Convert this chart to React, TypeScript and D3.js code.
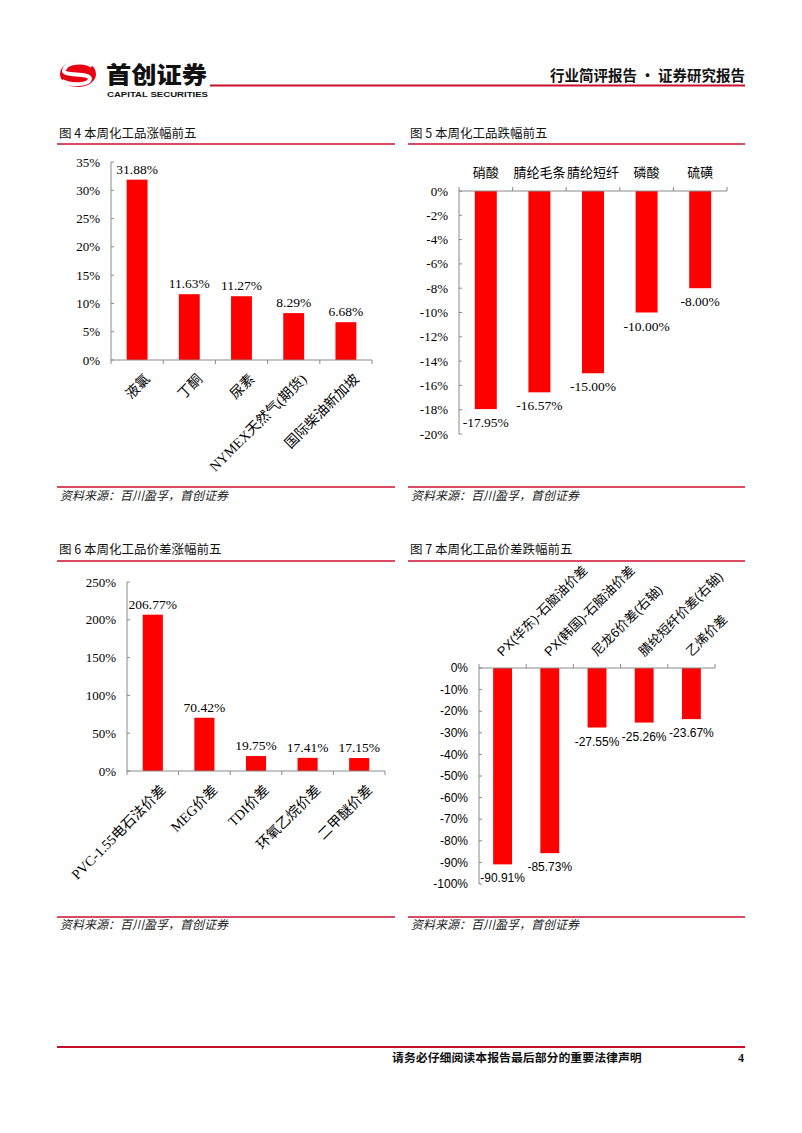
import React from 'react';
import * as d3 from 'd3';

// ---------- data ----------
const C4_CATS = ['液氯', '丁酮', '尿素', 'NYMEX天然气(期货)', '国际柴油新加坡'];
const C4_VALS = [31.88, 11.63, 11.27, 8.29, 6.68];
const C4_TICKS = [0, 5, 10, 15, 20, 25, 30, 35];

const C5_CATS = ['硝酸', '腈纶毛条', '腈纶短纤', '磷酸', '硫磺'];
const C5_VALS = [-17.95, -16.57, -15.0, -10.0, -8.0];
const C5_TICKS = [0, -2, -4, -6, -8, -10, -12, -14, -16, -18, -20];

const C6_CATS = ['PVC-1.55电石法价差', 'MEG价差', 'TDI价差', '环氧乙烷价差', '二甲醚价差'];
const C6_VALS = [206.77, 70.42, 19.75, 17.41, 17.15];
const C6_TICKS = [0, 50, 100, 150, 200, 250];

const C7_CATS = ['PX(华东)-石脑油价差', 'PX(韩国)-石脑油价差', '尼龙6价差(右轴)', '腈纶短纤价差(右轴)', '乙烯价差'];
const C7_VALS = [-90.91, -85.73, -27.55, -25.26, -23.67];
const C7_TICKS = [0, -10, -20, -30, -40, -50, -60, -70, -80, -90, -100];

const TITLES = ['图 4 本周化工品涨幅前五', '图 5 本周化工品跌幅前五', '图 6 本周化工品价差涨幅前五', '图 7 本周化工品价差跌幅前五'];
const SOURCE = '资料来源：百川盈孚，首创证券';

const SERIF = "'Liberation Serif','Times New Roman','Noto Sans CJK SC',serif";
const SANS = "'Liberation Sans',Arial,'Noto Sans CJK SC',sans-serif";
const CJK = "'Noto Sans CJK SC',sans-serif";
const RED = '#FF0000';
const DARKRED = '#C8102E';
const AXIS = '#8a8a8a';

type Spec = {
  cats: string[];
  vals: number[];
  domain: [number, number];
  yPix: [number, number];
  xPix: [number, number];
  ticks: number[];
  font: string;
  tickFs: number;
  valFs: number;
  catFs: number;
  catMode: 'belowRot' | 'aboveHoriz' | 'aboveRot';
  pad: number;
};

function Bars({ s }: { s: Spec }) {
  const y = d3.scaleLinear().domain(s.domain).range(s.yPix);
  const x = d3.scaleBand<string>().domain(s.cats).range(s.xPix).paddingInner(s.pad).paddingOuter(s.pad / 2);
  const y0 = y(0);
  const ax = s.xPix[0];
  const step = x.step();
  const yEnd = y(s.domain[0] === 0 ? s.domain[1] : s.domain[0]);
  const neg = s.domain[0] < 0;
  const bounds = d3.range(s.cats.length + 1).map((i) => (x(s.cats[0]) as number) + x.bandwidth() / 2 - step / 2 + i * step);
  return (
    <g>
      {/* y axis */}
      <line x1={ax} x2={ax} y1={y0} y2={yEnd} stroke={AXIS} strokeWidth={1} />
      {s.ticks.map((t) => (
        <g key={t}>
          <line x1={ax} x2={ax + 3} y1={y(t)} y2={y(t)} stroke={AXIS} />
          <text x={ax - 11} y={y(t)} dy="0.35em" textAnchor="end" fontFamily={s.font} fontSize={s.tickFs} fill="#000">
            {`${t}%`}
          </text>
        </g>
      ))}
      {/* bars */}
      {s.cats.map((c, i) => {
        const v = s.vals[i];
        const yv = y(v);
        return (
          <rect key={c} x={x(c)} width={x.bandwidth()} y={Math.min(yv, y0)} height={Math.abs(yv - y0)} fill={RED} />
        );
      })}
      {/* x axis */}
      <line x1={s.xPix[0]} x2={s.xPix[1]} y1={y0} y2={y0} stroke={AXIS} strokeWidth={1} />
      {bounds.map((b, i) => (
        <line key={i} x1={b} x2={b} y1={y0} y2={neg ? y0 - 4 : y0 + 4} stroke={AXIS} />
      ))}
      {/* value labels */}
      {s.cats.map((c, i) => {
        const v = s.vals[i];
        const cx = (x(c) as number) + x.bandwidth() / 2;
        const yv = y(v);
        return (
          <text key={c} x={cx} y={v >= 0 ? yv - 6 : yv + 18} textAnchor="middle" fontFamily={s.font} fontSize={s.valFs} fill="#000">
            {`${v.toFixed(2)}%`}
          </text>
        );
      })}
      {/* category labels */}
      {s.cats.map((c) => {
        const cx = (x(c) as number) + x.bandwidth() / 2;
        if (s.catMode === 'aboveHoriz') {
          return (
            <text key={c} x={cx} y={y0 - 14} textAnchor="middle" fontFamily={s.font} fontSize={s.catFs} fill="#000">
              {c}
            </text>
          );
        }
        if (s.catMode === 'belowRot') {
          const px = cx + 7;
          const py = y0 + 13;
          return (
            <text key={c} x={px} y={py} dy="0.7em" textAnchor="end" transform={`rotate(-45 ${px} ${py})`} fontFamily={s.font} fontSize={s.catFs} fill="#000">
              {c}
            </text>
          );
        }
        const px = cx;
        const py = y0 - 11;
        return (
          <text key={c} x={px} y={py} textAnchor="start" transform={`rotate(-45 ${px} ${py})`} fontFamily={s.font} fontSize={s.catFs} fill="#000">
            {c}
          </text>
        );
      })}
    </g>
  );
}

const SPECS: Spec[] = [
  { cats: C4_CATS, vals: C4_VALS, domain: [0, 35], yPix: [360, 162], xPix: [111, 372], ticks: C4_TICKS, font: SERIF, tickFs: 13, valFs: 13.5, catFs: 14, catMode: 'belowRot', pad: 0.6 },
  { cats: C5_CATS, vals: C5_VALS, domain: [-20, 0], yPix: [434, 191], xPix: [459, 727], ticks: C5_TICKS, font: SERIF, tickFs: 13, valFs: 13.5, catFs: 13, catMode: 'aboveHoriz', pad: 0.59 },
  { cats: C6_CATS, vals: C6_VALS, domain: [0, 250], yPix: [771, 582], xPix: [127, 385], ticks: C6_TICKS, font: SERIF, tickFs: 13, valFs: 13.5, catFs: 14, catMode: 'belowRot', pad: 0.61 },
  { cats: C7_CATS, vals: C7_VALS, domain: [-100, 0], yPix: [884, 668], xPix: [479, 715], ticks: C7_TICKS, font: SANS, tickFs: 12, valFs: 12, catFs: 13, catMode: 'aboveRot', pad: 0.6 },
];

const PANELS = [
  { x0: 57, x1: 395, titleY: 138, lineY: 144, srcLineY: 487, srcY: 500 },
  { x0: 408, x1: 745, titleY: 138, lineY: 144, srcLineY: 487, srcY: 500 },
  { x0: 57, x1: 395, titleY: 554, lineY: 561, srcLineY: 917, srcY: 929 },
  { x0: 408, x1: 745, titleY: 554, lineY: 561, srcLineY: 917, srcY: 929 },
];

export default function App() {
  return (
    <svg width={802} height={1133} style={{ position: 'absolute', left: 0, top: 0, background: '#fff' }}>
      <rect width={802} height={1133} fill="#fff" />
      {/* header logo */}
      <g>
        <ellipse cx={78} cy={74} rx={18} ry={13} fill="#E60012" />
        <path d="M92,66 C84,60 66,62 64,70 C62,77 90,72 90,79 C89,85 72,86 62,81" fill="none" stroke="#fff" strokeWidth={4} />
        <text x={106} y={83} fontFamily={CJK} fontWeight={900} fontSize={23} fill="#111" textLength={101} lengthAdjust="spacingAndGlyphs">首创证券</text>
        <text x={107} y={97} fontFamily={SANS} fontWeight={700} fontSize={8} fill="#111" textLength={101} lengthAdjust="spacingAndGlyphs">CAPITAL SECURITIES</text>
      </g>
      <line x1={210} x2={745} y1={85.5} y2={85.5} stroke={DARKRED} strokeWidth={2.2} />
      <text x={745} y={81} textAnchor="end" fontFamily={CJK} fontWeight={700} fontSize={14.5} fill="#111">行业简评报告 · 证券研究报告</text>

      {PANELS.map((p, i) => (
        <g key={i}>
          <text x={p.x0 + 2} y={p.titleY} fontFamily={CJK} fontSize={12.5} fill="#111">{TITLES[i]}</text>
          <line x1={p.x0} x2={p.x1} y1={p.lineY} y2={p.lineY} stroke={DARKRED} strokeWidth={1.3} />
          <line x1={p.x0} x2={p.x1} y1={p.srcLineY} y2={p.srcLineY} stroke={DARKRED} strokeWidth={1.3} />
          <text x={p.x0 + 3} y={p.srcY} fontFamily={CJK} fontStyle="italic" fontSize={12} fill="#222">{SOURCE}</text>
        </g>
      ))}

      {SPECS.map((s, i) => (
        <Bars key={i} s={s} />
      ))}

      {/* footer */}
      <line x1={57} x2={745} y1={1047} y2={1047} stroke={DARKRED} strokeWidth={2} />
      <text x={392} y={1062} fontFamily={CJK} fontWeight={700} fontSize={11.9} fill="#111">请务必仔细阅读本报告最后部分的重要法律声明</text>
      <text x={741} y={1062} textAnchor="middle" fontFamily={SERIF} fontWeight={700} fontSize={12} fill="#111">4</text>
    </svg>
  );
}
